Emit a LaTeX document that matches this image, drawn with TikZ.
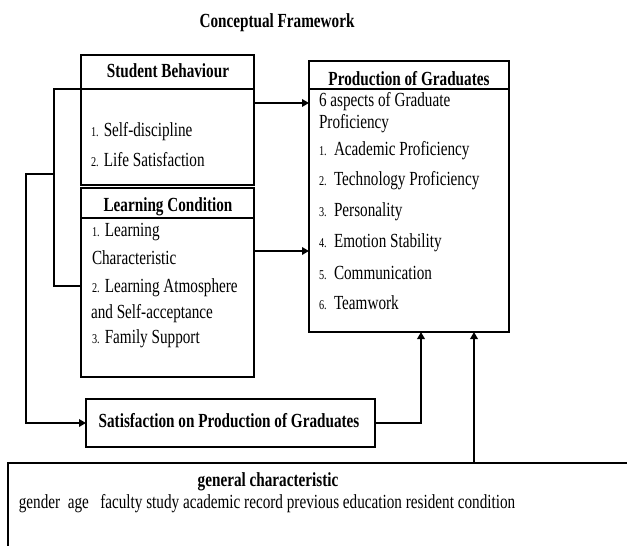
\documentclass[tikz,border=0pt]{standalone}
\usepackage{fontspec}
\setmainfont{Liberation Serif}[FakeStretch=0.76]
\usetikzlibrary{arrows.meta,calc}
\newcommand\itemno[1]{{\fontsize{13.5bp}{15bp}\selectfont #1}}
\begin{document}
\begin{tikzpicture}[x=1bp,y=-1bp,
  every node/.style={font=\fontsize{20bp}{22bp}\selectfont, inner sep=0pt, outer sep=0pt},
  box/.style={draw, line width=2bp, anchor=north west},
  divider/.style={line width=2bp},
  link/.style={line width=2.4bp},
  arr/.style={line width=2.8bp, -{Triangle[length=7bp,width=7.5bp]}},
  txt/.style={anchor=base west},
  hdr/.style={anchor=base, font=\fontsize{20bp}{22bp}\selectfont\bfseries}]
\clip (0,0) rectangle (627,546);
\useasboundingbox (0,0) rectangle (627,546);
\fill[white] (0,0) rectangle (627,546);

% title
\node[hdr] (title) at (277,28) {Conceptual Framework};

% boxes
\node[box, minimum width=173bp, minimum height=129.5bp] (sb) at (81,55) {};
\node[box, minimum width=173bp, minimum height=189bp] (lc) at (81,188) {};
\node[box, minimum width=200bp, minimum height=271bp] (pg) at (309,61) {};
\node[box, minimum width=289bp, minimum height=48bp] (sat) at (86,399) {};
\node[box, minimum width=640bp, minimum height=120bp] (gc) at (8,463) {};

% header dividers
\draw[divider] ($(sb.north west)+(0,34)$) -- ($(sb.north east)+(0,34)$);
\draw[divider] ($(lc.north west)+(0,30)$) -- ($(lc.north east)+(0,30)$);
\draw[divider] ($(pg.north west)+(0,28)$) -- ($(pg.north east)+(0,28)$);

% Student Behaviour
\node[hdr] (sbh) at (168,78) {Student Behaviour};
\node[txt] (sb1) at (91,137) {\itemno{1.} Self-discipline};
\node[txt] (sb2) at (91,167) {\itemno{2.} Life Satisfaction};

% Learning Condition
\node[hdr] (lch) at (168,212) {Learning Condition};
\node[txt] (lc1) at (92,237) {\itemno{1.} Learning};
\node[txt] (lc1b) at (92,264) {Characteristic};
\node[txt] (lc2) at (92,292) {\itemno{2.} Learning Atmosphere};
\node[txt] (lc2b) at (91,318) {and Self-acceptance};
\node[txt] (lc3) at (92,343) {\itemno{3.} Family Support};

% Production of Graduates
\node[hdr] (pgh) at (409,86) {Production of Graduates};
\node[txt] (pg0) at (319,107) {6 aspects of Graduate};
\node[txt] (pg0b) at (319,129) {Proficiency};
\node[txt] (pg1) at (319,156) {\makebox[15bp][l]{\itemno{1.}}Academic Proficiency};
\node[txt] (pg2) at (319,186) {\makebox[15bp][l]{\itemno{2.}}Technology Proficiency};
\node[txt] (pg3) at (319,217) {\makebox[15bp][l]{\itemno{3.}}Personality};
\node[txt] (pg4) at (319,248) {\makebox[15bp][l]{\itemno{4.}}Emotion Stability};
\node[txt] (pg5) at (319,279) {\makebox[15bp][l]{\itemno{5.}}Communication};
\node[txt] (pg6) at (319,309) {\makebox[15bp][l]{\itemno{6.}}Teamwork};

% Satisfaction
\node[hdr] (sath) at (229,427) {Satisfaction on Production of Graduates};

% general characteristic
\node[hdr] (gch) at (268,486) {general characteristic};
\node[anchor=base] (gct) at (267,508) {gender\ \ age\ \ \ faculty study academic record previous education resident condition};

% connectors
\coordinate (bt) at (54,89);
\coordinate (bb) at (54,286);
\coordinate (bo) at (54,174);
\coordinate (bl) at (26,174);
\draw[link] ($(sb.north west)+(0,34)$) -- (bt) -- (bb) -- (lc.west |- bb);
\draw[arr] (bo) -- (bl) |- (sat.west);
\coordinate (y1) at (0,103);
\coordinate (y2) at (0,251);
\draw[arr] (sb.east |- y1) -- (pg.west |- y1);
\draw[arr] (lc.east |- y2) -- (pg.west |- y2);
\draw[arr] (sat.east) -| ($(pg.south west)+(112,0)$);
\draw[arr] ($(gc.north west)+(466,0)$) -- ($(pg.south west)+(165,0)$);
\end{tikzpicture}
\end{document}
